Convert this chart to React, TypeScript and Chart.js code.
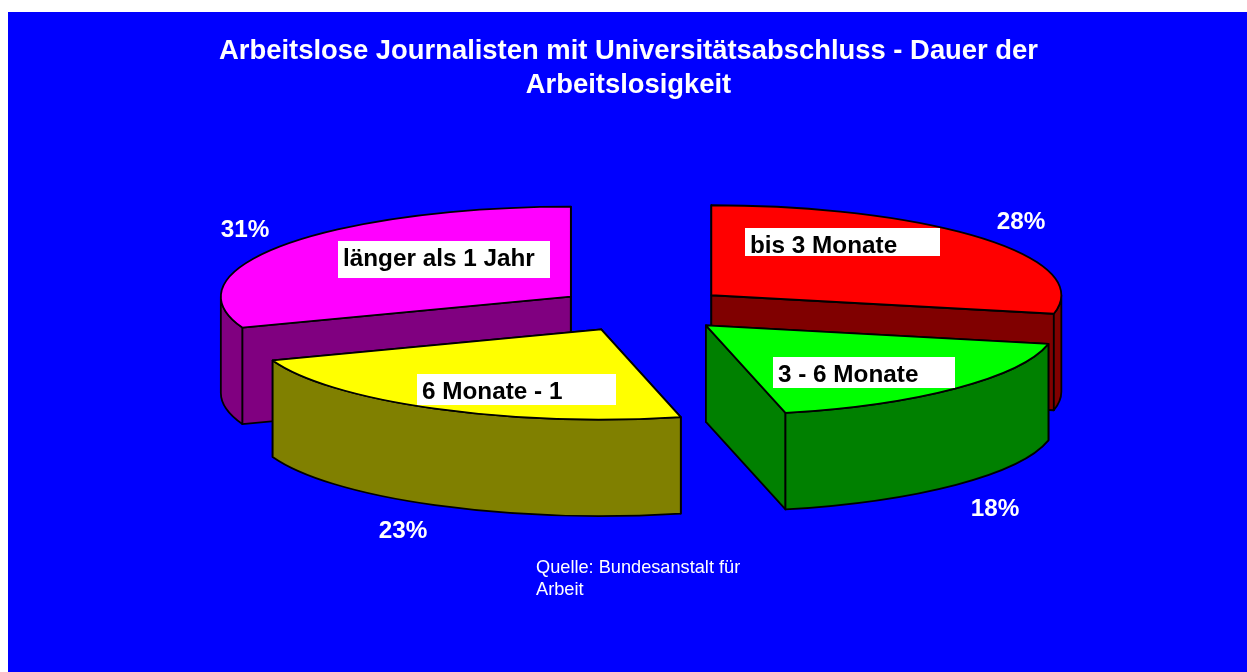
import React, { useEffect, useRef } from "react";
import { Chart, registerables } from "chart.js";

Chart.register(...registerables);

const categories = ["bis 3 Monate", "3 - 6 Monate", "6 Monate - 1", "länger als 1 Jahr"];
const shares = [28.3, 18.05, 23.05, 30.6];
const topColors = ["#ff0000", "#00ff00", "#ffff00", "#ff00ff"];
const wallColors = ["#800000", "#008000", "#808000", "#800080"];
const titleLines = ["Arbeitslose Journalisten mit Universitätsabschluss - Dauer der", "Arbeitslosigkeit"];
const sourceLines = ["Quelle: Bundesanstalt für", "Arbeit"];
// back slices first, so the front slices overlap them
const drawOrder = [0, 3, 2, 1];

// layout (canvas coordinates; the canvas sits at page 8,12)
const OX = 8;
const OY = 12;
const CX = 643 - OX;
const CY = 309.5 - OY;
const RADIUS = 350;
const TILT = 90 / 350;
const EXPLODE = 88;
const DEPTH = 96.5;
const FONT = "'Liberation Sans', Arial, sans-serif";

const labelBoxes = [
  { x: 745, y: 228, w: 195, h: 28, tx: 750, ty: 253 },
  { x: 773, y: 357, w: 182, h: 31, tx: 778, ty: 382 },
  { x: 417, y: 374, w: 199, h: 31, tx: 422, ty: 399 },
  { x: 338, y: 241, w: 212, h: 37, tx: 343, ty: 266 },
];
const percentPos = [
  { x: 1021, y: 229 },
  { x: 995, y: 516 },
  { x: 403, y: 538 },
  { x: 245, y: 237 },
];

const total = shares.reduce((a, b) => a + b, 0);

const pie3d = {
  id: "pie3d",
  // Replaces the default dataset pass: each arc element draws its own top face
  // inside a tilted, exploded transform, on top of its extruded walls.
  beforeDatasetsDraw(chart: any) {
    const ctx = chart.ctx;
    const arcs = chart.getDatasetMeta(0).data;
    ctx.save();
    ctx.lineWidth = 1.8;
    ctx.strokeStyle = "#000000";
    ctx.lineJoin = "round";
    drawOrder.forEach((i) => {
      const el = arcs[i];
      const { startAngle: a0, endAngle: a1, outerRadius: r } = el;
      const mid = (a0 + a1) / 2;
      const ax = CX + Math.cos(mid) * EXPLODE;
      const ay = CY + Math.sin(mid) * EXPLODE * TILT;
      ctx.fillStyle = wallColors[i];
      [a0, a1].forEach((a: number) => {
        const ex = ax + Math.cos(a) * r;
        const ey = ay + Math.sin(a) * r * TILT;
        ctx.beginPath();
        ctx.moveTo(ax, ay);
        ctx.lineTo(ex, ey);
        ctx.lineTo(ex, ey + DEPTH);
        ctx.lineTo(ax, ay + DEPTH);
        ctx.closePath();
        ctx.fill();
        ctx.stroke();
      });
      const w0 = Math.max(a0, 0);
      const w1 = Math.min(a1, Math.PI);
      if (w1 > w0) {
        ctx.beginPath();
        ctx.ellipse(ax, ay, r, r * TILT, 0, w0, w1);
        ctx.ellipse(ax, ay + DEPTH, r, r * TILT, 0, w1, w0, true);
        ctx.closePath();
        ctx.fill();
        ctx.stroke();
      }
      ctx.save();
      ctx.translate(ax, ay);
      ctx.scale(1, TILT);
      ctx.translate(-el.x, -el.y);
      el.draw(ctx);
      ctx.restore();
      ctx.beginPath();
      ctx.moveTo(ax, ay);
      ctx.ellipse(ax, ay, r, r * TILT, 0, a0, a1);
      ctx.closePath();
      ctx.stroke();
    });
    ctx.textBaseline = "alphabetic";
    categories.forEach((name, i) => {
      const b = labelBoxes[i];
      ctx.fillStyle = "#ffffff";
      ctx.fillRect(b.x - OX, b.y - OY, b.w, b.h);
      ctx.fillStyle = "#000000";
      ctx.textAlign = "left";
      ctx.font = `bold 24.3px ${FONT}`;
      ctx.fillText(name, b.tx - OX, b.ty - OY);
      const p = percentPos[i];
      ctx.fillStyle = "#ffffff";
      ctx.textAlign = "center";
      ctx.fillText(`${Math.round((shares[i] / total) * 100)}%`, p.x - OX, p.y - OY);
    });
    ctx.textAlign = "left";
    ctx.fillStyle = "#ffffff";
    ctx.font = `18.2px ${FONT}`;
    sourceLines.forEach((line, i) => {
      ctx.fillText(line, 536 - OX, 573 + i * 22 - OY);
    });
    ctx.restore();
    return false;
  },
};

const background = {
  id: "background",
  beforeDraw(chart: any) {
    const ctx = chart.ctx;
    ctx.save();
    ctx.fillStyle = "#0000ff";
    ctx.fillRect(0, 0, chart.width, chart.height);
    ctx.restore();
  },
};

export default function App() {
  const ref = useRef<HTMLCanvasElement>(null);
  useEffect(() => {
    if (!ref.current) return;
    const chart = new Chart(ref.current, {
      type: "pie",
      data: {
        labels: categories,
        datasets: [
          {
            data: shares,
            backgroundColor: topColors,
            borderWidth: 0,
          } as any,
        ],
      },
      options: {
        responsive: false,
        animation: false,
        events: [],
        radius: RADIUS,
        layout: { padding: { left: 2 } },
        plugins: {
          legend: { display: false },
          tooltip: { enabled: false },
          title: {
            display: true,
            text: titleLines,
            color: "#ffffff",
            font: { family: FONT, size: 27.4, weight: "bold", lineHeight: 1.24 },
            padding: { top: 22, bottom: 10 },
          },
        },
      } as any,
      plugins: [background, pie3d],
    });
    return () => chart.destroy();
  }, []);
  return (
    <div style={{ position: "absolute", left: OX, top: OY, width: 1239, height: 660 }}>
      <canvas ref={ref} width={1239} height={660} style={{ display: "block" }} />
    </div>
  );
}
